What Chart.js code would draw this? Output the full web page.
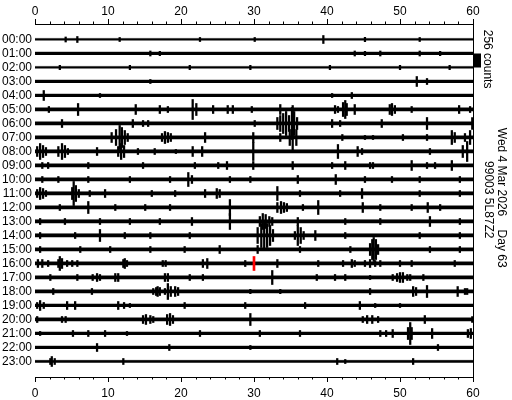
<!DOCTYPE html>
<html><head><meta charset="utf-8">
<script src="https://cdn.jsdelivr.net/npm/chart.js@4/dist/chart.umd.min.js"></script>
<style>html,body{margin:0;padding:0;background:#fff}</style>
</head><body>
<canvas id="c" width="512" height="400"></canvas>
<script>
// ---- data ----
const hours = ['00:00','01:00','02:00','03:00','04:00','05:00','06:00','07:00','08:00','09:00','10:00','11:00',
               '12:00','13:00','14:00','15:00','16:00','17:00','18:00','19:00','20:00','21:00','22:00','23:00'];
const minuteTicks = [0, 10, 20, 30, 40, 50, 60];
const countsPerTrace = 256;            // trace spacing = scale bar
const scaleLabel = '256 counts';
const dateLabel = 'Wed 4 Mar 2026    Day 63';
const stationLabel = '99003 5L87Z2';
const markerMinute = 30, markerHour = 16;   // red "now" marker
// background noise half-amplitude per hourly trace (counts)
const noise = [20,26,20,26,26,30,30,30,33,30,31,33,30,33,33,30,30,30,30,28,30,28,26,21];
// events per hourly trace: [minute, half amplitude in counts]
const events = [
 /*00*/ [[4.2,46],[5.8,55],[11.6,37],[22.6,37],[30.1,37],[39.5,73],[45.2,40],[52.7,37]],
 /*01*/ [[15.8,46],[17.1,40],[43.8,46],[45.2,40],[47.3,46],[52.7,46],[55.5,40]],
 /*02*/ [[3.4,40],[13.0,40],[21.2,40],[29.5,40],[40.4,40],[50.0,40],[56.8,40]],
 /*03*/ [[15.8,37],[52.3,91],[53.7,55]],
 /*04*/ [[1.2,91],[8.9,37],[40.7,37],[43.4,55]],
 /*05*/ [[1.9,55],[5.9,110],[13.8,91],[17.1,73],[18.2,55],[21.6,183],[22.1,110],[24.4,73],[26.4,73],[27.1,73],
         [29.7,55],[33.6,91],[35.3,73],[41.1,73],[41.5,55],[42.2,128],[42.5,165],[42.7,110],[43.8,91],
         [48.6,91],[48.9,110],[49.3,73],[51.6,55],[58.1,73],[59.6,55]],
 /*06*/ [[3.7,73],[13.4,73],[14.8,55],[15.5,55],[30.1,55],[33.2,110],[33.6,146],[34.0,183],[34.4,220],[34.8,146],
         [35.2,293],[35.5,220],[35.9,110],[40.7,73],[41.8,55],[47.5,73],[53.7,110],[59.9,110]],
 /*07*/ [[10.5,91],[11.1,146],[11.6,220],[11.9,183],[12.3,128],[12.7,73],[17.4,73],[17.8,110],[18.2,91],[18.6,73],
         [23.3,91],[29.9,91],[33.6,73],[34.9,146],[35.3,256],[35.8,146],[42.1,55],[45.2,37],[46.3,37],
         [50.4,55],[53.7,55],[57.1,128],[57.5,91],[58.9,73],[59.6,128]],
 /*08*/ [[0.3,91],[0.7,146],[1.1,110],[1.5,73],[3.2,91],[3.7,146],[4.1,110],[4.5,55],[8.5,73],[11.4,91],[11.8,146],
         [12.2,110],[14.1,55],[16.4,55],[19.3,37],[21.6,91],[22.9,91],[29.9,165],[41.5,128],[44.2,91],[44.8,55],
         [54.1,55],[58.6,110],[59.2,183]],
 /*09*/ [[1.0,55],[1.8,55],[7.3,55],[14.8,55],[21.9,55],[25.1,55],[26.3,73],[29.9,73],[35.3,73],[40.7,55],[42.5,73],
         [45.9,55],[46.3,55],[51.6,91],[53.7,55],[54.8,55],[57.1,91]],
 /*10*/ [[1.0,55],[3.2,55],[7.3,55],[13.0,55],[18.5,55],[21.0,128],[21.5,73],[26.7,55],[29.5,55],[36.0,73],
         [41.2,91],[45.2,55],[48.9,55],[52.7,55],[58.2,55]],
 /*11*/ [[0.3,73],[0.7,110],[1.1,91],[1.5,55],[5.1,110],[5.3,220],[5.6,146],[6.0,73],[7.5,55],[9.6,73],[16.0,55],
         [19.2,55],[23.3,73],[24.9,91],[25.3,73],[33.2,128],[36.3,55],[41.8,55],[44.8,91],[52.7,55],[58.2,55]],
 /*12*/ [[3.4,55],[7.3,110],[11.0,55],[15.1,55],[18.5,55],[26.7,146],[33.2,91],[33.7,110],[34.1,91],[34.5,73],
         [36.7,55],[38.8,128],[44.9,91],[47.3,55],[51.6,55],[53.8,91],[55.5,55]],
 /*13*/ [[0.7,55],[4.1,55],[8.9,55],[13.0,55],[17.1,55],[21.5,73],[26.7,146],[30.8,91],[31.2,146],[31.6,128],
         [32.1,91],[32.5,73],[36.0,73],[42.5,55],[47.3,55],[54.1,91],[58.2,55]],
 /*14*/ [[0.7,55],[5.5,55],[8.9,110],[12.3,55],[15.8,55],[21.2,55],[30.5,146],[31.0,220],[31.4,274],[31.8,220],
         [32.2,183],[32.6,110],[35.6,73],[36.0,183],[36.4,146],[36.8,73],[38.4,91],[42.5,55],[52.7,55],[58.2,55]],
 /*15*/ [[0.7,55],[6.2,55],[10.3,55],[15.8,55],[20.5,55],[25.3,73],[30.5,73],[36.3,55],[43.2,55],[45.9,110],
         [46.2,183],[46.4,220],[46.7,183],[47.0,91],[54.1,55],[58.2,55]],
 /*16*/ [[0.4,73],[1.0,73],[1.8,55],[3.2,73],[3.4,128],[3.7,91],[4.4,55],[5.1,55],[5.8,55],[12.1,73],[12.3,91],
         [12.6,55],[17.5,55],[17.9,55],[23.0,73],[23.6,91],[28.8,55],[33.2,73],[38.8,55],[42.2,55],[43.4,73],
         [43.8,55],[45.2,55],[45.9,73],[46.6,55],[47.3,55],[50.0,55],[51.6,55],[57.5,55]],
 /*17*/ [[2.1,55],[5.8,55],[7.9,55],[8.5,73],[8.9,55],[11.0,73],[11.4,73],[17.8,73],[18.2,73],[21.2,55],[23.0,55],
         [32.5,128],[38.6,55],[41.1,55],[42.5,55],[45.9,37],[49.0,55],[49.6,73],[50.0,91],[50.4,91],[51.0,55],
         [51.4,55],[53.2,55]],
 /*18*/ [[2.5,55],[7.8,55],[16.2,55],[16.6,73],[16.8,91],[17.1,73],[17.8,55],[18.2,146],[18.6,91],[19.2,91],
         [19.6,73],[29.5,40],[33.6,40],[45.9,55],[51.8,91],[52.2,73],[53.7,110],[57.9,91],[58.9,55],[59.2,55]],
 /*19*/ [[0.3,55],[0.7,91],[1.2,55],[4.4,73],[5.5,73],[11.4,73],[12.2,55],[13.0,37],[20.5,55],[28.8,55],[37.0,55],
         [44.5,73],[46.6,37],[50.0,37]],
 /*20*/ [[0.3,55],[3.7,55],[4.2,55],[14.8,73],[15.2,91],[15.8,73],[16.2,55],[18.1,91],[18.5,110],[18.9,73],
         [29.5,110],[44.9,55],[45.5,73],[46.2,73],[47.0,55],[53.4,73],[59.9,55]],
 /*21*/ [[0.7,37],[5.2,55],[7.3,55],[9.6,55],[12.6,37],[22.6,55],[30.8,55],[36.3,55],[47.3,55],[48.1,55],[49.0,73],
         [51.1,110],[51.4,201],[51.6,110],[54.4,91],[59.3,73],[59.7,91]],
 /*22*/ [[8.5,73],[18.4,55],[29.5,37],[55.2,55]],
 /*23*/ [[2.1,55],[2.3,91],[2.7,55],[12.1,55],[41.4,55],[42.5,37],[51.8,55]]
];

// ---- chart ----
Chart.defaults.font.family = "'Liberation Sans', Arial, sans-serif";
Chart.defaults.font.size = 12;
Chart.defaults.color = '#000';

const toU = c => c / countsPerTrace;
const baselineSets = hours.map((h, i) => ({
  type: 'line',
  data: [{x: minuteTicks[0], y: i - toU(noise[i])}, {x: minuteTicks[minuteTicks.length - 1], y: i - toU(noise[i])}],
  fill: {value: i + toU(noise[i])},
  backgroundColor: '#000', borderColor: '#000', borderWidth: 0.5,
  pointRadius: 0, order: 3
}));
const spikeData = events.flatMap((ev, i) => ev.map(([m, c]) => ({x: m, y: [i - toU(c), i + toU(c)]})));

const xAxis = (pos, h, pad) => ({
  type: 'linear', position: pos, min: minuteTicks[0], max: minuteTicks[minuteTicks.length - 1], offset: false,
  afterBuildTicks: s => { s.ticks = minuteTicks.map(v => ({value: v})); },
  ticks: {padding: pad, maxRotation: 0, autoSkip: false, color: '#000'},
  grid: {display: true, drawOnChartArea: false, drawTicks: true, tickLength: 5, tickColor: '#000', offset: false},
  border: {display: true, color: '#000', width: 1},
  afterFit: s => { s.height = h; }
});

const decor = {
  id: 'decor',
  afterDraw(chart) {
    const ctx = chart.ctx, a = chart.chartArea;
    const x = chart.scales.x, y = chart.scales.y;
    ctx.save();
    ctx.strokeStyle = '#000'; ctx.lineWidth = 1;
    // minor ticks every 2 minutes
    ctx.beginPath();
    for (let m = minuteTicks[0]; m <= minuteTicks[minuteTicks.length - 1]; m += 2) {
      if (m % 10 === 0) continue;
      const px = Math.round(x.getPixelForValue(m)) + 0.5;
      ctx.moveTo(px, a.top); ctx.lineTo(px, a.top - 2.5);
      ctx.moveTo(px, a.bottom); ctx.lineTo(px, a.bottom + 2.5);
    }
    // right frame line
    ctx.moveTo(Math.round(a.right) + 0.5, a.top); ctx.lineTo(Math.round(a.right) + 0.5, a.bottom);
    ctx.stroke();
    // amplitude scale bar
    ctx.fillStyle = '#000';
    const y1 = y.getPixelForValue(1), y2 = y.getPixelForValue(2);
    ctx.fillRect(Math.round(a.right), y1, 8, y2 - y1);
    // rotated labels
    ctx.font = "12px 'Liberation Sans', Arial, sans-serif";
    ctx.textAlign = 'center'; ctx.textBaseline = 'middle';
    const rot = (t, cx, cy) => { ctx.save(); ctx.translate(cx, cy); ctx.rotate(Math.PI / 2); ctx.fillText(t, 0, 0); ctx.restore(); };
    rot(scaleLabel, a.right + 14, y.getPixelForValue(1.4));
    rot(dateLabel, a.right + 28, y.getPixelForValue(11.3));
    rot(stationLabel, a.right + 15, y.getPixelForValue(11.45));
    ctx.restore();
  }
};

new Chart(document.getElementById('c'), {
  type: 'bar',
  data: {
    datasets: [
      {type: 'bar', data: [{x: markerMinute, y: [markerHour - 0.5, markerHour + 0.5]}], backgroundColor: '#ff0000',
       barThickness: 2, grouped: false, order: 0},
      {type: 'bar', data: spikeData, backgroundColor: '#000', barThickness: 1.6, grouped: false, order: 1},
      ...baselineSets
    ]
  },
  options: {
    responsive: false, animation: false, devicePixelRatio: 1,
    layout: {padding: {left: 0, right: 39, top: 0, bottom: 0}},
    plugins: {legend: {display: false}, tooltip: {enabled: false}},
    scales: {
      x: xAxis('bottom', 23, 4),
      xt: xAxis('top', 24, 0),
      y: {
        type: 'linear', reverse: true, min: -1.107, max: 24.107,
        afterBuildTicks: s => { s.ticks = hours.map((_, i) => ({value: i})); },
        ticks: {autoSkip: false, padding: 3, color: '#000', callback: (v, i) => hours[i]},
        grid: {display: false, drawTicks: false},
        border: {display: false},
        afterFit: s => { s.width = 35; }
      }
    }
  },
  plugins: [decor]
});
</script>
</body></html>
